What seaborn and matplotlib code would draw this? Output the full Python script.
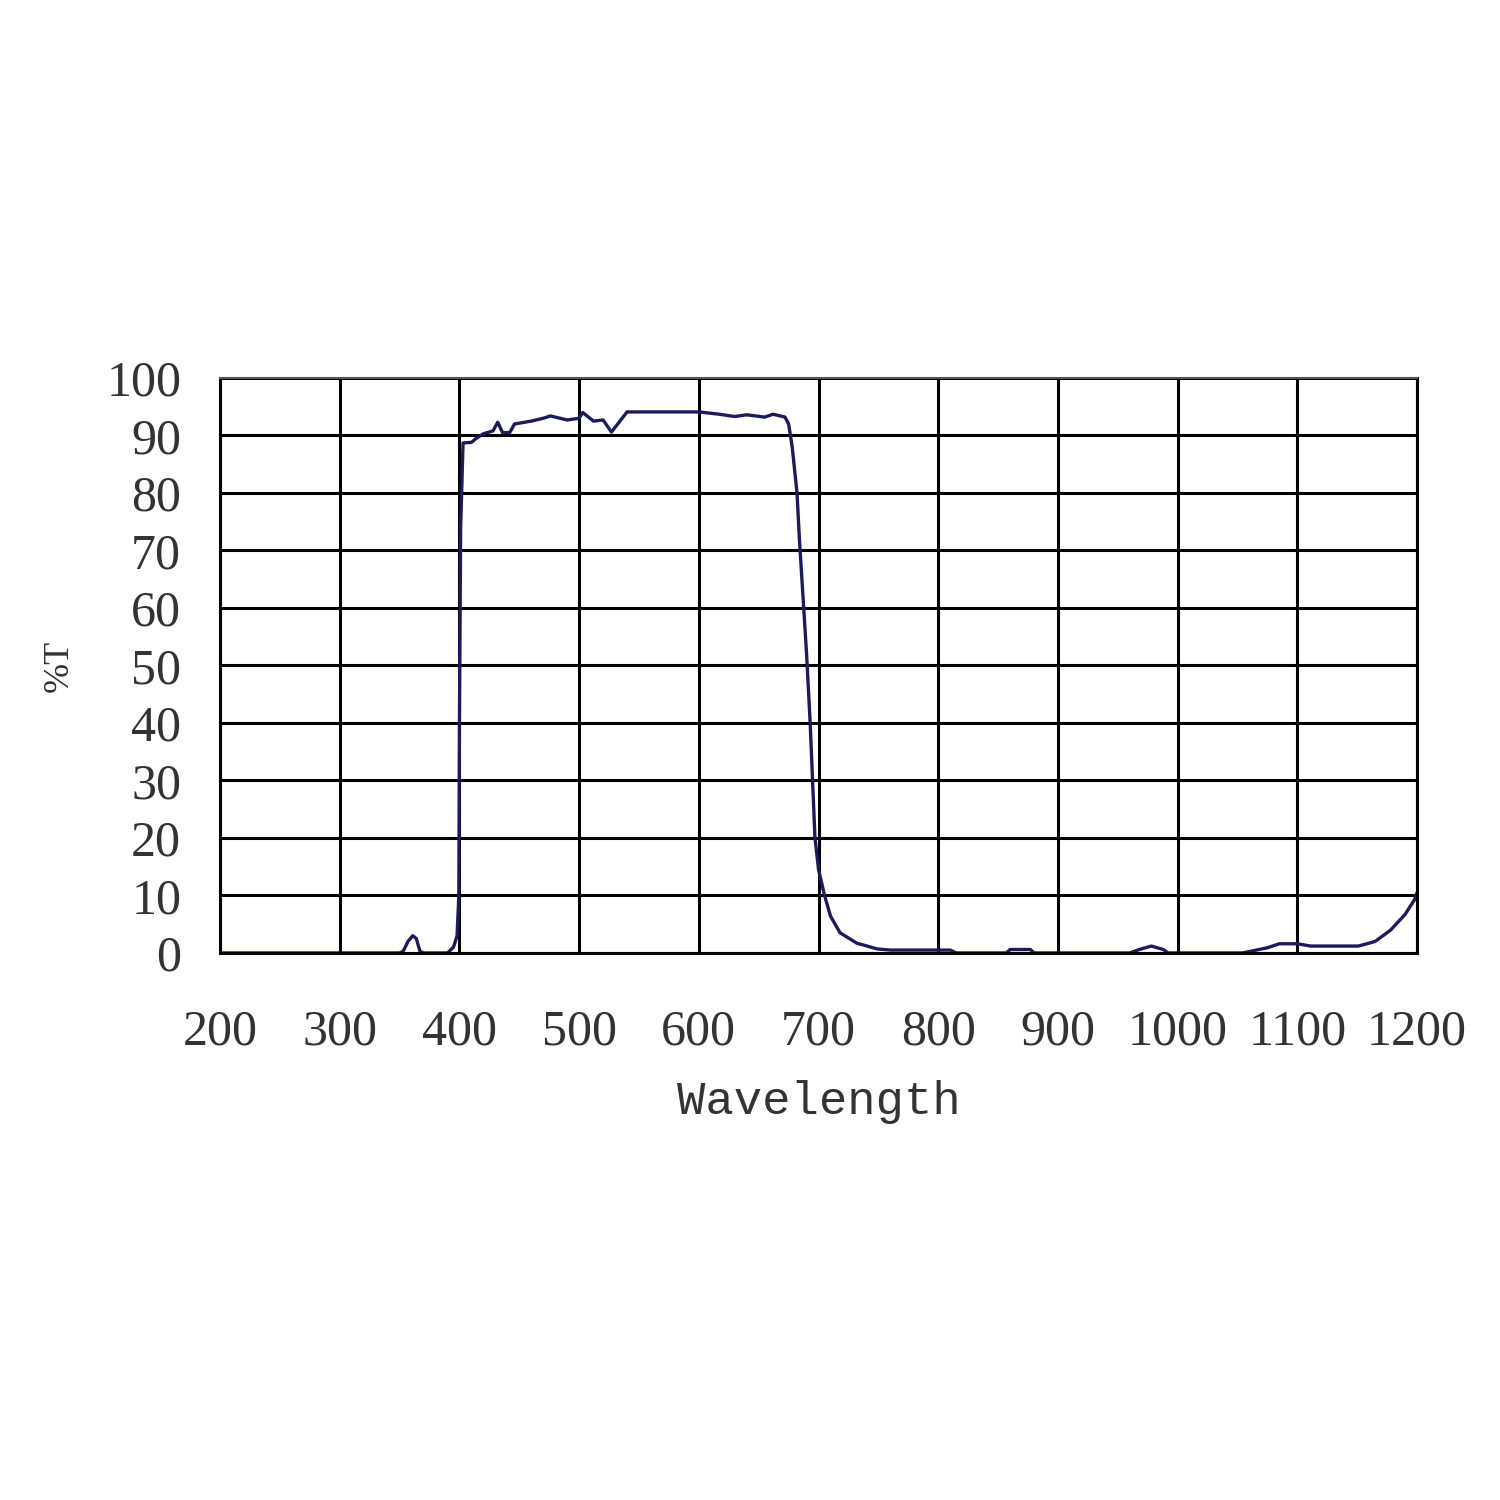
import seaborn as sns
import matplotlib.pyplot as plt
import pandas as pd

# transmission curve
wavelength = [200, 350, 353, 357, 361, 364, 367, 370, 390, 395, 398, 399.5, 400, 401,
              403, 410, 414, 420, 428, 432, 436, 442, 446, 460, 470, 476, 490, 500,
              503, 512, 520, 527, 540, 600, 617, 630, 640, 655, 662, 672, 675, 678,
              682, 684, 687, 690, 693, 695, 697, 700, 705, 710, 718, 732, 749, 760,
              810, 815, 857, 860, 877, 880, 960, 968, 978, 988, 992, 1054, 1075,
              1085, 1100, 1111, 1151, 1165, 1178, 1190, 1198, 1200]
transmission = [0, 0, 0.3, 2, 3, 2.5, 0.3, 0, 0, 1, 3, 10, 40, 74,
                88.7, 88.8, 89.5, 90.3, 90.8, 92.3, 90.5, 90.5, 92, 92.5, 93, 93.4, 92.7, 93,
                94, 92.5, 92.7, 90.6, 94.1, 94.1, 93.7, 93.3, 93.6, 93.2, 93.7, 93.2, 92, 88,
                80, 72, 62, 52, 40, 30, 20, 14.5, 10, 6.4, 3.5, 1.7, 0.7, 0.5,
                0.5, 0, 0, 0.6, 0.6, 0, 0, 0.6, 1.2, 0.6, 0, 0, 0.9,
                1.6, 1.6, 1.2, 1.2, 2, 4, 6.7, 9.3, 10.5]

df = pd.DataFrame({'Wavelength': wavelength, '%T': transmission})

sns.set_style('white')
plt.rcParams['font.family'] = ['Liberation Serif', 'DejaVu Serif']

fig = plt.figure(figsize=(15, 15), dpi=100)
ax = fig.add_axes([0.1467, 0.3647, 0.798, 0.3833])

sns.lineplot(x='Wavelength', y='%T', data=df, ax=ax, color='#1c1c5a', linewidth=2.4)

ax.set_xlim(200, 1200)
ax.set_ylim(0, 100)
ax.set_xticks(range(200, 1201, 100))
ax.set_yticks(range(0, 101, 10))
ax.grid(True, color='black', linewidth=2.2)
ax.set_axisbelow(True)
for s in ax.spines.values():
    s.set_color('black')
    s.set_linewidth(2.2)
ax.spines['top'].set_color('#555555')
ax.spines['top'].set_linewidth(1.5)

ax.tick_params(axis='both', length=0, labelsize=36, colors='#333333')
ax.tick_params(axis='x', pad=40)
ax.tick_params(axis='y', pad=28)

ax.set_xlabel('Wavelength', fontsize=34, family=['Liberation Mono', 'DejaVu Sans Mono'],
              color='#333333', labelpad=18)
ax.set_ylabel('%T', fontsize=26, color='#333333', labelpad=22)

fig.savefig('out.png', dpi=100)
